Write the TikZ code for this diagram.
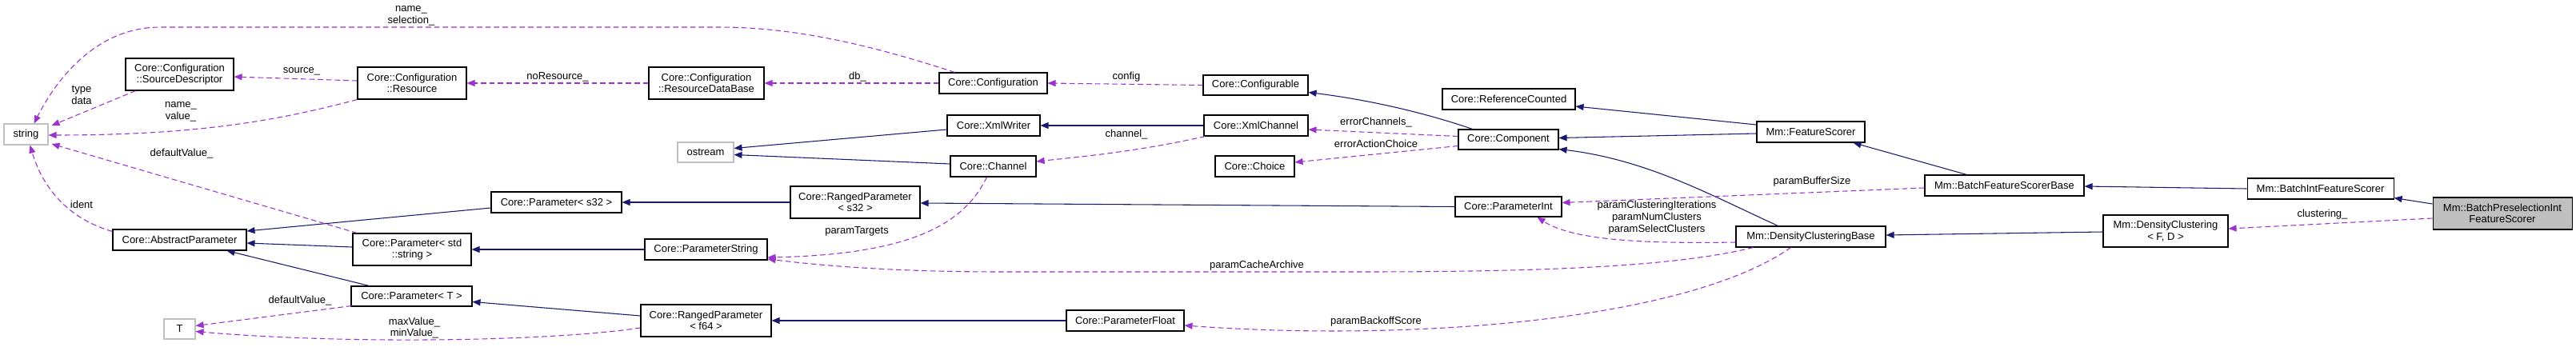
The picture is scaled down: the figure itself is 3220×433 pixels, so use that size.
\documentclass[tikz,border=0pt]{standalone}
\usepackage{fontspec}
\setmainfont{Liberation Sans}
\usetikzlibrary{arrows.meta,calc}
\definecolor{inh}{HTML}{191970}
\definecolor{usec}{HTML}{9A32CD}
\definecolor{gbord}{HTML}{BFBFBF}
\begin{document}
\begin{tikzpicture}[x=0.75pt,y=-0.75pt,
  font=\fontsize{9.75}{11}\selectfont,
  cls/.style 2 args={draw=black, line width=0.8pt, fill=white, inner sep=0pt, align=center,
    minimum width=#1*0.75pt, minimum height=#2*0.75pt},
  ext/.style 2 args={cls={#1}{#2}, draw=gbord},
  inhe/.style={draw=inh, line width=0.8pt, -{Triangle[length=7.5pt,width=6pt]}},
  usee/.style={draw=usec, line width=0.8pt, dash pattern=on 5pt off 3pt, -{Triangle[length=7.5pt,width=6pt]}},
  lab/.style={align=center, inner sep=0pt}]
\fill[white] (0,0) rectangle (3220,433);
\useasboundingbox (0,0) rectangle (3220,433);
% nodes
\node[ext={55}{26}] (string) at (32.5,168) {string};
\node[cls={135}{40}] (srcdesc) at (224.5,93) {Core::Configuration\\::SourceDescriptor};
\node[cls={136}{40}] (resource) at (515,104) {Core::Configuration\\::Resource};
\node[cls={167}{26}] (abspar) at (224.5,300) {Core::AbstractParameter};
\node[ext={39}{25}] (T) at (224.5,411.5) {T};
\node[cls={163}{26}] (pars32) at (695.5,253) {Core::Parameter< s32 >};
\node[cls={148}{40}] (parstr) at (515,312) {Core::Parameter< std\\::string >};
\node[cls={151}{25}] (parT) at (514.5,370.5) {Core::Parameter< T >};
\node[cls={144}{40}] (rdb) at (883,104) {Core::Configuration\\::ResourceDataBase};
\node[cls={135}{26}] (config) at (1241.5,104) {Core::Configuration};
\node[cls={131}{25}] (configurable) at (1569.5,106.5) {Core::Configurable};
\node[ext={70}{25}] (ostream) at (882,190.5) {ostream};
\node[cls={116}{26}] (xmlwriter) at (1242,157) {Core::XmlWriter};
\node[cls={130}{26}] (xmlchannel) at (1570,157) {Core::XmlChannel};
\node[cls={107}{26}] (channel) at (1241.5,208) {Core::Channel};
\node[cls={99}{26}] (choice) at (1568.5,208) {Core::Choice};
\node[cls={162}{40}] (rps32) at (1069,253) {Core::RangedParameter\\< s32 >};
\node[cls={153}{26}] (parstring) at (882.5,312) {Core::ParameterString};
\node[cls={163}{40}] (rpf64) at (882.5,401) {Core::RangedParameter\\< f64 >};
\node[cls={147}{26}] (parfloat) at (1406.5,401) {Core::ParameterFloat};
\node[cls={166}{26}] (refcount) at (1886,124) {Core::ReferenceCounted};
\node[cls={125}{25}] (component) at (1885.5,174.5) {Core::Component};
\node[cls={135}{26}] (featscorer) at (2263.5,165) {Mm::FeatureScorer};
\node[cls={133}{25}] (parint) at (1885.5,258.5) {Core::ParameterInt};
\node[cls={187}{26}] (dcb) at (2263.5,296) {Mm::DensityClusteringBase};
\node[cls={199}{26}] (bfsb) at (2505.5,232) {Mm::BatchFeatureScorerBase};
\node[cls={183}{26}] (bifs) at (2900.5,236) {Mm::BatchIntFeatureScorer};
\node[cls={174}{40}, fill=gbord] (bpifs) at (3128,267) {Mm::BatchPreselectionInt\\FeatureScorer};
\node[cls={156}{40}] (dc) at (2707,289) {Mm::DensityClustering\\< F, D >};
% inheritance
\draw[inhe] ($(pars32.west)+(0,7)$) -- ($(abspar.east)+(0,-11)$);
\draw[inhe] ($(parstr.west)+(0,-3)$) -- ($(abspar.east)+(0,4)$);
\draw[inhe] ($(parT.north west)+(23,0)$) -- ($(abspar.south)+(59,0)$);
\draw[inhe] (rps32.west) -- (pars32.east);
\draw[inhe] (parstring.west) -- (parstr.east);
\draw[inhe] ($(rpf64.west)+(0,-6)$) -- ($(parT.east)+(0,7)$);
\draw[inhe] ($(xmlwriter.west)+(0,5)$) -- ($(ostream.east)+(0,-5)$);
\draw[inhe] ($(channel.west)+(0,-3)$) -- ($(ostream.east)+(0,3)$);
\draw[inhe] (xmlchannel.west) -- (xmlwriter.east);
\draw[inhe] ($(component.north)+(-45,0)$) .. controls (1790,144) and (1720,126) .. ($(configurable.east)+(0,9)$);
\draw[inhe] (parint.west) -- ($(rps32.east)+(0,1)$);
\draw[inhe] (parfloat.west) -- (rpf64.east);
\draw[inhe] ($(featscorer.west)+(0,-9)$) -- ($(refcount.east)+(0,9)$);
\draw[inhe] ($(featscorer.west)+(0,2)$) -- ($(component.east)+(0,-2)$);
\draw[inhe] ($(dcb.north)+(-41,0)$) .. controls (2140,245) and (2060,200) .. ($(component.east)+(0,12)$);
\draw[inhe] ($(bfsb.north)+(-47,0)$) -- ($(featscorer.south)+(53,0)$);
\draw[inhe] (bifs.west) -- ($(bfsb.east)+(0,1)$);
\draw[inhe] ($(bpifs.west)+(0,-12)$) -- ($(bifs.south east)+(0,-2)$);
\draw[inhe] ($(dc.west)+(0,1)$) -- ($(dcb.east)+(0,-2)$);
% usage
\draw[usee] ($(config.north)+(-48,0)$) .. controls (1100,60) and (1000,34) .. (900,34) -- (200,34) .. controls (120,34) and (70,100) .. ($(string.north)+(10,0)$);
\draw[usee] ($(srcdesc.south west)+(13,0)$) -- ($(string.east)+(4,-11)$);
\draw[usee] (resource.south west) .. controls (350,150) and (250,169) .. ($(string.east)+(0,1)$);
\draw[usee] ($(resource.west)+(0,-3)$) -- ($(srcdesc.east)+(0,3)$);
\draw[usee] (rdb.west) -- (resource.east);
\draw[usee] (config.west) -- (rdb.east);
\draw[usee] (configurable.west) -- (config.east);
\draw[usee] ($(parstr.north west)+(6,0)$) -- ($(string.east)+(4,12)$);
\draw[usee] ($(abspar.north west)+(0,3)$) .. controls (90,275) and (55,240) .. ($(string.south)+(5,0)$);
\draw[usee] ($(parT.south west)+(1,-1)$) -- ($(T.east)+(0,-4)$);
\draw[usee] ($(rpf64.west)+(0,9)$) .. controls (680,428) and (420,430) .. ($(T.east)+(0,3)$);
\draw[usee] ($(xmlchannel.south west)+(2,0)$) .. controls (1420,190) and (1350,196) .. ($(channel.east)+(0,-6)$);
\draw[usee] ($(component.west)+(0,-4)$) -- ($(xmlchannel.east)+(0,5)$);
\draw[usee] ($(component.west)+(0,8)$) -- ($(choice.east)+(0,-5)$);
\draw[usee] ($(channel.south)+(-8,0)$) .. controls (1205,280) and (1140,318) .. ($(parstring.east)+(0,10)$);
\draw[usee] ($(dcb.south west)+(22,0)$) .. controls (2100,332) and (1950,340) .. (1700,340) -- (1250,340) .. controls (1100,340) and (1010,330) .. ($(parstring.east)+(0,12)$);
\draw[usee] ($(bfsb.west)+(0,3)$) -- ($(parint.east)+(0,-5)$);
\draw[usee] ($(dcb.west)+(0,7)$) .. controls (2050,305) and (1965,300) .. ($(parint.south)+(36,0)$);
\draw[usee] ($(dcb.south)+(-25,0)$) .. controls (2110,400) and (1770,428) .. ($(parfloat.east)+(0,6)$);
\draw[usee] ($(bpifs.west)+(0,6)$) -- ($(dc.east)+(0,-3)$);
% labels
\node[lab] (l1) at (514,20) {name\_\\selection\_};
\node[lab] (l2) at (102,119) {type\\data};
\node[lab] (l3) at (226,140) {name\_\\value\_};
\node[lab] (l4) at (377,89) {source\_};
\node[lab] (l5) at (697,96) {noResource\_};
\node[lab] (l6) at (1072,96) {db\_};
\node[lab] (l7) at (1408,96) {config};
\node[lab] (l8) at (227,192) {defaultValue\_};
\node[lab] (l9) at (102,256) {ident};
\node[lab] (l10) at (375,376) {defaultValue\_};
\node[lab] (l11) at (518,410) {maxValue\_\\minValue\_};
\node[lab] (l12) at (1408,168) {channel\_};
\node[lab] (l13) at (1720,153) {errorChannels\_};
\node[lab] (l14) at (1720,180) {errorActionChoice};
\node[lab] (l15) at (1071,289) {paramTargets};
\node[lab] (l16) at (1571,332) {paramCacheArchive};
\node[lab] (l17) at (2265,227) {paramBufferSize};
\node[lab] (l18) at (2071,272) {paramClusteringIterations\\paramNumClusters\\paramSelectClusters};
\node[lab] (l19) at (1720,402) {paramBackoffScore};
\node[lab] (l20) at (2903,268) {clustering\_};
\end{tikzpicture}
\end{document}
